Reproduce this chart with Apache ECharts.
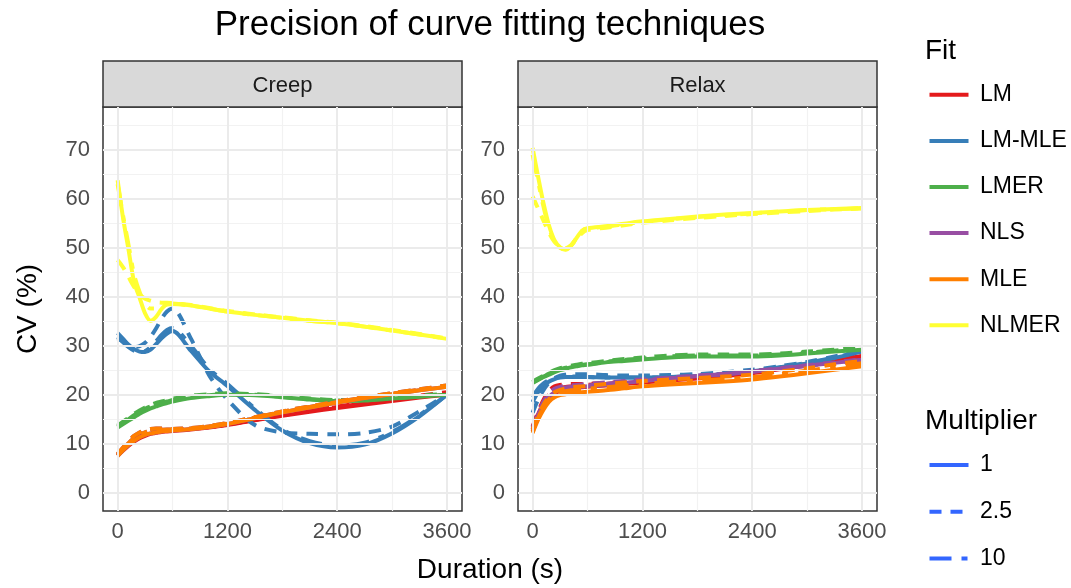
<!DOCTYPE html>
<html>
<head>
<meta charset="utf-8">
<script src="https://cdn.jsdelivr.net/npm/echarts@6/dist/echarts.min.js"></script>
<style>
  html, body { margin: 0; padding: 0; background: #ffffff; }
  #chart { width: 1071px; height: 588px; }
</style>
</head>
<body>
<div id="chart"></div>
<script>
// Sampling times (s) shared by every fitted curve
const durations = [0, 60, 120, 180, 240, 300, 360, 420, 480, 540, 600, 800, 1000, 1200, 1500, 1800, 2100, 2400, 2700, 3000, 3300, 3600];

const panels = ['Creep', 'Relax'];
const fits = ['LM', 'LM-MLE', 'LMER', 'NLS', 'MLE', 'NLMER'];
const multipliers = ['1', '2.5', '10'];

const xTicks = [0, 1200, 2400, 3600];
const xMinor = [600, 1800, 3000];
const yTicks = [0, 10, 20, 30, 40, 50, 60, 70];
const yMinor = [5, 15, 25, 35, 45, 55, 65, 75];

// CV (%) — Creep
const creep_LM_m1    = [7.5, 8.6, 9.6, 10.4, 11.1, 11.6, 12.0, 12.2, 12.4, 12.5, 12.6, 12.9, 13.3, 13.8, 14.8, 15.7, 16.5, 17.3, 18.0, 18.7, 19.4, 20.0];
const creep_LM_m2_5  = [7.8, 9.1, 10.3, 11.3, 12.0, 12.5, 12.8, 12.9, 12.9, 12.9, 12.9, 13.1, 13.4, 13.9, 14.9, 15.9, 16.8, 17.6, 18.4, 19.1, 19.8, 20.5];
const creep_LM_m10   = [7.6, 8.8, 9.9, 10.8, 11.5, 12.0, 12.3, 12.5, 12.6, 12.7, 12.8, 13.0, 13.4, 13.9, 14.9, 15.8, 16.7, 17.5, 18.2, 18.9, 19.6, 20.3];
const creep_LMMLE_m1   = [32.6, 31.4, 30.2, 29.3, 28.8, 28.7, 29.2, 30.3, 31.5, 32.5, 33.0, 29.0, 24.8, 21.8, 16.9, 12.7, 10.1, 9.2, 9.8, 12.1, 15.6, 20.0];
const creep_LMMLE_m2_5 = [31.5, 30.8, 30.1, 29.7, 29.9, 30.6, 31.8, 33.5, 35.5, 37.0, 37.6, 31.5, 24.0, 19.0, 13.8, 12.3, 12.0, 11.9, 12.2, 13.5, 16.6, 20.0];
const creep_LMMLE_m10  = [31.8, 30.7, 29.7, 29.0, 28.7, 28.9, 29.7, 30.9, 32.2, 33.2, 33.6, 30.0, 25.3, 22.2, 17.2, 12.9, 10.5, 9.6, 10.2, 12.4, 15.8, 20.0];
const creep_LMER_m1    = [13.3, 14.0, 14.7, 15.4, 16.1, 16.7, 17.2, 17.6, 18.0, 18.3, 18.6, 19.3, 19.7, 20.0, 19.9, 19.5, 19.0, 18.7, 18.8, 19.2, 19.6, 20.0];
const creep_LMER_m2_5  = [13.7, 14.5, 15.3, 16.1, 16.8, 17.4, 17.9, 18.3, 18.6, 18.9, 19.2, 19.8, 20.1, 20.3, 20.1, 19.7, 19.2, 18.9, 19.0, 19.4, 19.8, 20.2];
const creep_LMER_m10   = [13.5, 14.3, 15.0, 15.8, 16.5, 17.1, 17.6, 18.0, 18.3, 18.6, 18.9, 19.6, 19.9, 20.2, 20.0, 19.6, 19.1, 18.8, 18.9, 19.3, 19.7, 20.1];
const creep_NLS_m1     = [7.5, 8.7, 9.8, 10.6, 11.3, 11.8, 12.1, 12.3, 12.5, 12.6, 12.7, 13.0, 13.4, 14.0, 15.2, 16.4, 17.4, 18.4, 19.3, 20.1, 20.9, 21.6];
const creep_NLS_m2_5   = [7.9, 9.2, 10.5, 11.6, 12.3, 12.8, 13.0, 13.1, 13.1, 13.1, 13.0, 13.2, 13.6, 14.2, 15.4, 16.6, 17.6, 18.6, 19.5, 20.3, 21.1, 21.9];
const creep_NLS_m10    = [7.7, 8.9, 10.1, 11.1, 11.8, 12.3, 12.6, 12.7, 12.8, 12.9, 12.9, 13.1, 13.5, 14.1, 15.3, 16.5, 17.5, 18.5, 19.4, 20.2, 21.0, 21.8];
const creep_MLE_m1     = [7.5, 8.7, 9.8, 10.6, 11.3, 11.8, 12.1, 12.3, 12.5, 12.6, 12.7, 13.0, 13.4, 14.0, 15.2, 16.4, 17.4, 18.4, 19.3, 20.1, 20.9, 21.6];
const creep_MLE_m2_5   = [7.9, 9.2, 10.5, 11.6, 12.3, 12.8, 13.0, 13.1, 13.1, 13.1, 13.0, 13.2, 13.6, 14.2, 15.4, 16.6, 17.6, 18.6, 19.5, 20.3, 21.1, 21.9];
const creep_MLE_m10    = [7.7, 8.9, 10.1, 11.1, 11.8, 12.3, 12.6, 12.7, 12.8, 12.9, 12.9, 13.1, 13.5, 14.1, 15.3, 16.5, 17.5, 18.5, 19.4, 20.2, 21.0, 21.8];
const creep_NLMER_m1   = [63.8, 56.0, 49.5, 43.0, 39.8, 36.6, 35.1, 35.9, 37.5, 38.5, 38.6, 38.2, 37.6, 37.0, 36.3, 35.7, 35.1, 34.6, 33.9, 33.1, 32.3, 31.4];
const creep_NLMER_m2_5 = [47.5, 46.0, 44.0, 42.0, 40.5, 39.6, 39.2, 38.9, 38.8, 38.8, 38.7, 38.3, 37.7, 37.1, 36.4, 35.8, 35.2, 34.7, 34.0, 33.2, 32.4, 31.5];
const creep_NLMER_m10  = [63.0, 56.5, 50.5, 44.5, 41.0, 38.6, 37.6, 37.6, 38.0, 38.4, 38.5, 38.2, 37.6, 37.0, 36.3, 35.7, 35.1, 34.6, 33.9, 33.1, 32.3, 31.4];

// CV (%) — Relax
const relax_LM_m1      = [12.5, 15.3, 17.6, 19.3, 20.3, 20.8, 21.1, 21.3, 21.4, 21.5, 21.6, 21.9, 22.2, 22.5, 22.9, 23.3, 23.8, 24.4, 25.2, 26.0, 26.9, 27.8];
const relax_LM_m2_5    = [13.5, 16.5, 19.0, 20.8, 21.7, 22.0, 22.1, 22.2, 22.2, 22.2, 22.2, 22.4, 22.6, 22.9, 23.3, 23.7, 24.2, 24.8, 25.5, 26.3, 27.2, 28.1];
const relax_LM_m10     = [13.0, 16.0, 18.3, 20.0, 21.0, 21.4, 21.6, 21.7, 21.8, 21.9, 22.0, 22.2, 22.5, 22.8, 23.1, 23.5, 24.0, 24.6, 25.3, 26.1, 27.0, 27.9];
const relax_LMMLE_m1   = [18.5, 20.5, 21.8, 22.7, 23.2, 23.5, 23.6, 23.6, 23.6, 23.6, 23.6, 23.5, 23.5, 23.5, 23.6, 23.8, 24.2, 24.8, 25.5, 26.4, 27.5, 28.8];
const relax_LMMLE_m2_5 = [16.3, 19.0, 21.0, 22.5, 23.4, 23.9, 24.1, 24.2, 24.2, 24.2, 24.2, 24.0, 23.9, 23.9, 24.0, 24.2, 24.6, 25.1, 25.8, 26.7, 27.8, 29.0];
const relax_LMMLE_m10  = [19.5, 21.2, 22.3, 23.0, 23.4, 23.6, 23.7, 23.7, 23.7, 23.7, 23.6, 23.5, 23.5, 23.5, 23.6, 23.9, 24.3, 24.9, 25.6, 26.5, 27.6, 28.9];
const relax_LMER_m1    = [22.4, 23.0, 23.6, 24.1, 24.6, 25.0, 25.3, 25.6, 25.8, 26.0, 26.1, 26.6, 26.9, 27.2, 27.6, 27.8, 27.8, 27.8, 28.0, 28.4, 28.8, 29.2];
const relax_LMER_m2_5  = [22.6, 23.3, 23.9, 24.5, 25.0, 25.4, 25.7, 25.9, 26.1, 26.3, 26.4, 26.9, 27.3, 27.6, 28.0, 28.2, 28.2, 28.2, 28.4, 28.8, 29.2, 29.6];
const relax_LMER_m10   = [22.5, 23.1, 23.7, 24.3, 24.8, 25.2, 25.5, 25.7, 25.9, 26.1, 26.2, 26.7, 27.1, 27.4, 27.8, 28.0, 28.0, 28.0, 28.2, 28.6, 29.0, 29.4];
const relax_NLS_m1     = [12.8, 15.6, 17.9, 19.5, 20.5, 20.9, 21.2, 21.4, 21.5, 21.6, 21.7, 22.0, 22.4, 22.8, 23.3, 23.8, 24.2, 24.7, 25.3, 25.9, 26.5, 27.1];
const relax_NLS_m2_5   = [13.3, 16.2, 18.6, 20.3, 21.2, 21.6, 21.8, 21.9, 22.0, 22.1, 22.2, 22.5, 22.8, 23.1, 23.5, 23.9, 24.3, 24.8, 25.4, 26.0, 26.6, 27.2];
const relax_NLS_m10    = [13.0, 15.9, 18.2, 19.9, 20.8, 21.2, 21.5, 21.6, 21.7, 21.8, 21.9, 22.2, 22.6, 22.9, 23.4, 23.8, 24.2, 24.7, 25.3, 25.9, 26.5, 27.1];
const relax_MLE_m1     = [12.2, 14.9, 17.0, 18.6, 19.5, 19.9, 20.1, 20.3, 20.4, 20.5, 20.6, 20.9, 21.3, 21.7, 22.1, 22.4, 22.7, 23.1, 23.7, 24.4, 25.1, 25.8];
const relax_MLE_m2_5   = [13.0, 15.8, 18.0, 19.6, 20.5, 21.0, 21.3, 21.5, 21.6, 21.7, 21.8, 22.2, 22.5, 22.8, 23.1, 23.4, 23.7, 24.1, 24.7, 25.4, 26.2, 26.9];
const relax_MLE_m10    = [12.6, 15.3, 17.5, 19.1, 20.0, 20.4, 20.7, 20.9, 21.0, 21.1, 21.2, 21.5, 21.9, 22.2, 22.6, 22.9, 23.2, 23.6, 24.2, 24.9, 25.7, 26.4];
const relax_NLMER_m1   = [70.4, 64.5, 59.0, 54.5, 51.5, 50.1, 49.6, 50.4, 52.0, 53.5, 54.0, 54.4, 54.9, 55.4, 55.9, 56.4, 56.8, 57.1, 57.4, 57.7, 57.9, 58.1];
const relax_NLMER_m2_5 = [60.5, 58.0, 55.5, 53.0, 51.2, 50.2, 49.9, 50.5, 51.8, 53.0, 53.6, 54.1, 54.6, 55.1, 55.6, 56.1, 56.5, 56.9, 57.2, 57.5, 57.8, 58.0];
const relax_NLMER_m10  = [69.0, 63.5, 58.3, 54.0, 51.3, 50.0, 49.7, 50.5, 52.0, 53.4, 53.9, 54.3, 54.8, 55.3, 55.8, 56.3, 56.7, 57.0, 57.4, 57.7, 57.9, 58.1];

// Lookup: panel -> fit -> [multiplier 1, 2.5, 10]
const curves = {
  Creep: {
    'LM':     [creep_LM_m1, creep_LM_m2_5, creep_LM_m10],
    'LM-MLE': [creep_LMMLE_m1, creep_LMMLE_m2_5, creep_LMMLE_m10],
    'LMER':   [creep_LMER_m1, creep_LMER_m2_5, creep_LMER_m10],
    'NLS':    [creep_NLS_m1, creep_NLS_m2_5, creep_NLS_m10],
    'MLE':    [creep_MLE_m1, creep_MLE_m2_5, creep_MLE_m10],
    'NLMER':  [creep_NLMER_m1, creep_NLMER_m2_5, creep_NLMER_m10]
  },
  Relax: {
    'LM':     [relax_LM_m1, relax_LM_m2_5, relax_LM_m10],
    'LM-MLE': [relax_LMMLE_m1, relax_LMMLE_m2_5, relax_LMMLE_m10],
    'LMER':   [relax_LMER_m1, relax_LMER_m2_5, relax_LMER_m10],
    'NLS':    [relax_NLS_m1, relax_NLS_m2_5, relax_NLS_m10],
    'MLE':    [relax_MLE_m1, relax_MLE_m2_5, relax_MLE_m10],
    'NLMER':  [relax_NLMER_m1, relax_NLMER_m2_5, relax_NLMER_m10]
  }
};

const FONT = '"Liberation Sans", Arial, Helvetica, sans-serif';
const fitColors = {
  'LM': '#E41A1C', 'LM-MLE': '#377EB8', 'LMER': '#4DAF4A',
  'NLS': '#984EA3', 'MLE': '#FF7F00', 'NLMER': '#FFFF33'
};
const dashFor = { '1': 'solid', '2.5': [12, 9], '10': [22, 10, 6, 10] };

const panelLefts = [103, 518];
const panelTop = 107, panelW = 359, panelH = 404;
const xRange = [-160, 3765];
const yRange = [-3.75, 78.75];

const grids = panelLefts.map(l => ({
  left: l, top: panelTop, width: panelW, height: panelH,
  show: true, borderColor: '#333333', borderWidth: 1.5, backgroundColor: 'transparent'
}));

const plain = v => String(v);

const xAxes = panelLefts.map((_, i) => ({
  type: 'value', gridIndex: i, min: xRange[0], max: xRange[1],
  axisLine: { show: false },
  axisTick: { show: true, customValues: xTicks, length: 6, lineStyle: { color: '#333333', width: 1.5 } },
  axisLabel: { customValues: xTicks, formatter: plain, fontSize: 22, color: '#4d4d4d', fontFamily: FONT, margin: 10 },
  splitLine: { show: false }
}));

const yAxes = panelLefts.map((_, i) => ({
  type: 'value', gridIndex: i, min: yRange[0], max: yRange[1],
  axisLine: { show: false },
  axisTick: { show: true, customValues: yTicks, length: 6, lineStyle: { color: '#333333', width: 1.5 } },
  axisLabel: { show: true, customValues: yTicks, formatter: plain, fontSize: 22, color: '#4d4d4d', fontFamily: FONT, margin: 13 },
  splitLine: { show: false }
}));

const series = [];

// panel grid lines, placed through each panel's own axes
panelLefts.forEach((_, i) => {
  const major = { color: '#ebebeb', width: 2, type: 'solid' };
  const minor = { color: '#f2f2f2', width: 1.2, type: 'solid' };
  series.push({
    type: 'line', xAxisIndex: i, yAxisIndex: i, data: [], z: 1, silent: true,
    markLine: {
      silent: true, animation: false, symbol: ['none', 'none'], label: { show: false },
      emphasis: { disabled: true },
      data: [
        ...xMinor.map(v => ({ xAxis: v, lineStyle: minor })),
        ...yMinor.map(v => ({ yAxis: v, lineStyle: minor })),
        ...xTicks.map(v => ({ xAxis: v, lineStyle: major })),
        ...yTicks.map(v => ({ yAxis: v, lineStyle: major }))
      ]
    }
  });
});

panels.forEach((panel, p) => {
  fits.forEach(fit => {
    multipliers.forEach((mult, m) => {
      const vals = curves[panel][fit][m];
      series.push({
        name: fit + ' ' + mult,
        type: 'line', xAxisIndex: p, yAxisIndex: p,
        data: durations.map((t, k) => [t, vals[k]]),
        showSymbol: false, symbol: 'none', smooth: 0.3, silent: true, z: 2,
        lineStyle: { color: fitColors[fit], width: 4, type: dashFor[mult], cap: 'butt', join: 'round' }
      });
    });
  });
});

// titles, facet strips and the two legends
const graphic = [];
graphic.push({
  type: 'text', x: 490, y: 25, silent: true,
  style: { text: 'Precision of curve fitting techniques', font: '35px ' + FONT, fill: '#000',
           textAlign: 'center', textVerticalAlign: 'middle' }
});
panels.forEach((panel, p) => {
  graphic.push({
    type: 'rect', silent: true,
    shape: { x: panelLefts[p], y: 61, width: panelW, height: 46 },
    style: { fill: '#d9d9d9', stroke: '#333333', lineWidth: 1.5 }
  });
  graphic.push({
    type: 'text', silent: true, x: panelLefts[p] + panelW / 2, y: 85.5,
    style: { text: panel, font: '22px ' + FONT, fill: '#1a1a1a', textAlign: 'center', textVerticalAlign: 'middle' }
  });
});
graphic.push({
  type: 'text', silent: true, x: 28, y: 309, rotation: Math.PI / 2,
  style: { text: 'CV (%)', font: '28px ' + FONT, fill: '#000', textAlign: 'center', textVerticalAlign: 'middle' }
});
graphic.push({
  type: 'text', silent: true, x: 490, y: 570,
  style: { text: 'Duration (s)', font: '28px ' + FONT, fill: '#000', textAlign: 'center', textVerticalAlign: 'middle' }
});

graphic.push({
  type: 'text', silent: true, x: 925, y: 51,
  style: { text: 'Fit', font: '28px ' + FONT, fill: '#000', textAlign: 'left', textVerticalAlign: 'middle' }
});
fits.forEach((fit, i) => {
  const y = 94.8 + i * 46.1;
  graphic.push({
    type: 'line', silent: true, shape: { x1: 929.5, y1: y, x2: 968.5, y2: y },
    style: { stroke: fitColors[fit], lineWidth: 4 }
  });
  graphic.push({
    type: 'text', silent: true, x: 980, y: y,
    style: { text: fit, font: '23px ' + FONT, fill: '#000', textAlign: 'left', textVerticalAlign: 'middle' }
  });
});
graphic.push({
  type: 'text', silent: true, x: 925, y: 421.5,
  style: { text: 'Multiplier', font: '28px ' + FONT, fill: '#000', textAlign: 'left', textVerticalAlign: 'middle' }
});
multipliers.forEach((mult, i) => {
  const y = 465 + i * 46.8;
  const d = dashFor[mult];
  graphic.push({
    type: 'line', silent: true, shape: { x1: 929.5, y1: y, x2: 968.5, y2: y },
    style: { stroke: '#3366FF', lineWidth: 4, lineDash: d === 'solid' ? null : d, lineCap: 'butt' }
  });
  graphic.push({
    type: 'text', silent: true, x: 980, y: y,
    style: { text: mult, font: '23px ' + FONT, fill: '#000', textAlign: 'left', textVerticalAlign: 'middle' }
  });
});

const chart = echarts.init(document.getElementById('chart'), null, { renderer: 'canvas' });
chart.setOption({
  animation: false,
  backgroundColor: '#ffffff',
  grid: grids,
  xAxis: xAxes,
  yAxis: yAxes,
  series: series,
  graphic: graphic
});
</script>
</body>
</html>
